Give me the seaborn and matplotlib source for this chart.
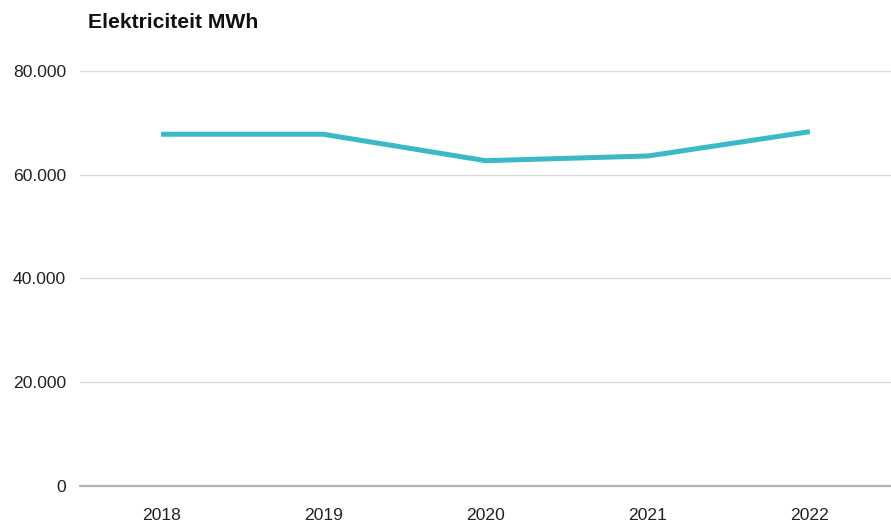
import matplotlib
matplotlib.use("Agg")
import matplotlib.pyplot as plt
import seaborn as sns
import pandas as pd

years = ["2018", "2019", "2020", "2021", "2022"]
values = [67800, 67800, 62700, 63600, 68300]
yticks = [0, 20000, 40000, 60000, 80000]
ytick_labels = ["0", "20.000", "40.000", "60.000", "80.000"]
title = "Elektriciteit MWh"

sns.set_theme(style="white")
plt.rcParams['font.family'] = ['Liberation Sans', 'DejaVu Sans']

df = pd.DataFrame({"year": years, "value": values})

W, H = 891, 523
fig = plt.figure(figsize=(W / 100, H / 100), dpi=100)
ax = fig.add_axes([80 / W, (H - 485.7) / H, (W - 80) / W, (485.7 - 71) / H])

sns.lineplot(data=df, x="year", y="value", ax=ax, color="#3bbac6",
             linewidth=3.6, solid_capstyle="butt", sort=False)

ax.set_xlim(-0.5, 4.5)
ax.set_ylim(0, 80000)
ax.set_yticks(yticks)
ax.set_yticklabels(ytick_labels)
for y in yticks[1:]:
    ax.axhline(y, color="#d9d9d9", linewidth=1.0, zorder=0)
ax.axhline(0, color="#b3b3b3", linewidth=1.6, zorder=1, clip_on=False)

for s in ax.spines.values():
    s.set_visible(False)
ax.tick_params(axis="y", length=0, pad=10, labelsize=12.6, colors="#222222")
ax.tick_params(axis="x", length=0, pad=16, labelsize=12.6, colors="#222222")
ax.set_xlabel("")
ax.set_ylabel("")
ax.grid(False)

fig.text(88 / W, 1 - 23 / H, title, fontsize=15.2, fontweight="bold",
         ha="left", va="center", color="#111111")

fig.savefig("out.png", dpi=100)
